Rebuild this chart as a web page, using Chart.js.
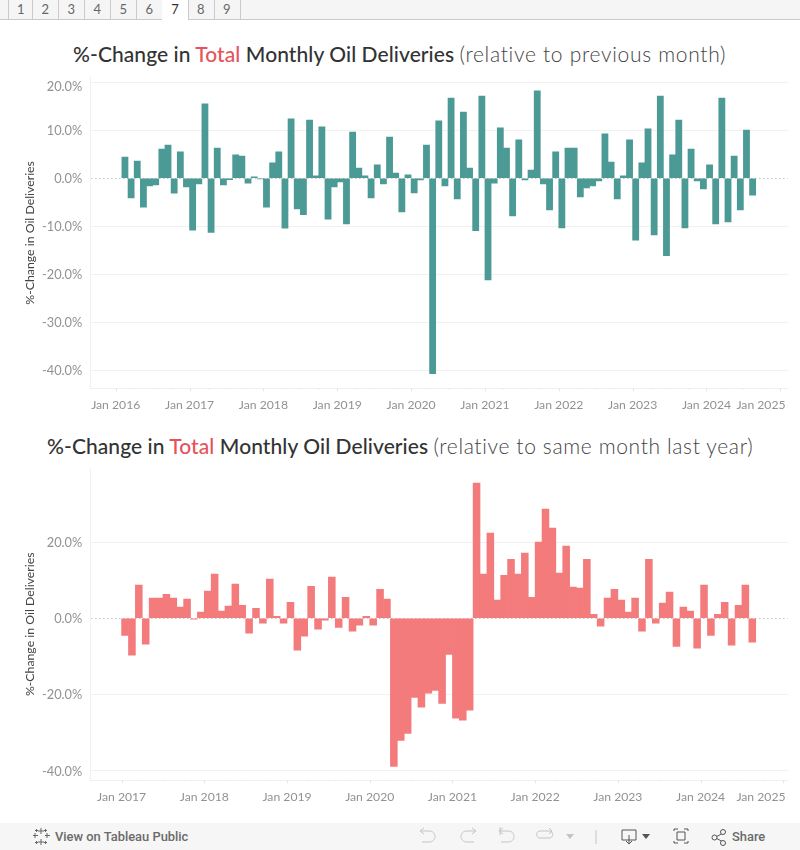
<!DOCTYPE html>
<html>
<head>
<meta charset="utf-8">
<title>Monthly Oil Deliveries</title>
<script src="https://cdn.jsdelivr.net/npm/chart.js@4"></script>
<style>
  html, body { margin: 0; padding: 0; background: #fff; }
  body { width: 800px; height: 850px; position: relative; overflow: hidden; font-family: Lato, sans-serif; }
  .tabs { position: absolute; left: 0; top: 0; width: 800px; height: 19px; background: #f5f5f5; border-bottom: 1px solid #cbcbcb; }
  .tab { position: absolute; top: 0; height: 19px; line-height: 19px; text-align: center; font-size: 13px; color: #666; border-right: 1px solid #cbcbcb; box-sizing: border-box; }
  .tab.first { border-left: 1px solid #cbcbcb; }
  .tab.active { background: #fff; height: 20px; color: #333; }
  .title { position: absolute; white-space: nowrap; font-size: 21px; line-height: 26px; color: #333; font-weight: 500; letter-spacing: 0.07px; }
  .title .total { color: #e5535b; }
  .title .rel { font-weight: 300; color: #444; letter-spacing: 0.7px; }
  canvas { position: absolute; left: 0; }
  .foot { position: absolute; left: 0; top: 823px; width: 800px; height: 27px; background: #f6f6f6; }
  .foot span { position: absolute; top: 6px; font-size: 12.9px; line-height: 16px; font-family: Roboto, sans-serif; font-weight: 500; color: #6a6a6a; white-space: nowrap; }
  .foot svg { position: absolute; left: 0; top: 0; }
</style>
</head>
<body>
<div class="tabs" id="tabs"></div>

<div class="title" style="left:73px;top:41px"><span>%-Change in <span class="total">Total</span> Monthly Oil Deliveries</span> <span class="rel">(relative to previous month)</span></div>
<canvas id="prevChart" style="top:70px" width="800" height="350"></canvas>

<div class="title" style="left:47px;top:433px"><span>%-Change in <span class="total">Total</span> Monthly Oil Deliveries</span> <span class="rel" style="letter-spacing:0.64px">(relative to same month last year)</span></div>
<canvas id="yoyChart" style="top:460px" width="800" height="350"></canvas>

<div class="foot">
  <span style="left:55px">View on Tableau Public</span>
  <span style="left:732px">Share</span>
  <svg width="800" height="27" fill="none" stroke-width="1">
    <g stroke="#666">
      <path d="M41 5v6M38 8h6M41 16v6M38 19h6M35 10v5M33 12.500h5M47 10v5M45 12.500h5M36.500 6v3M35 7.500h3M45.500 6v3M44 7.500h3M36.500 18v3M35 19.500h3M45.500 18v3M44 19.500h3"/>
    </g>
    <g stroke="#c4c4c4">
      <path d="M421 8h8c8 0 8 11 0 11h-7M424 5l-4 3l4 3"/>
      <path d="M475 8h-8c-8 0-8 11 0 11h7M472 5l4 3l-4 3"/>
      <path d="M500 8h8c8 0 8 11 0 11h-7M503 5l-4 3l4 3M500 4v8"/>
      <path d="M539 8h10c5 0 5 7 0 7h-10c-3-1-3-6 0-7zM549 5l3 3l-3 3"/>
      <path d="M596 7v14"/>
    </g>
    <path d="M566 11h8l-4 5z" fill="#c4c4c4"/>
    <g stroke="#555">
      <path d="M622 7h14v10h-14zM629 12v9M626 18l3 3l3-3"/>
      <path d="M674 8v-2h4M684 6h4v2M688 18v2h-4M678 20h-4v-2M677 9h8v8h-8z"/>
      <path d="M716 14l7-4M716 15l7 4"/>
      <circle cx="714.500" cy="14.500" r="2.500" fill="#f6f6f6"/>
      <circle cx="723" cy="9" r="2.500" fill="#f6f6f6"/>
      <circle cx="723" cy="20" r="2.500" fill="#f6f6f6"/>
    </g>
    <path d="M642 11h8l-4 5z" fill="#555"/>
  </svg>
</div>

<script>
const tabLabels = ['1', '2', '3', '4', '5', '6', '7', '8', '9'];
const activeTab = '7';

// %-change relative to previous month, Feb 2016 to Aug 2024
const prevStart = [2016, 2];
const prevValues = [
  4.4, -4.1, 3.6, -6.0, -1.6, -1.4, 6.1, 6.9, -3.1, 5.5, -1.8,
  -10.8, -1.2, 15.5, -11.3, 6.3, -1.4, -0.3, 4.9, 4.65, -1.0, 0.3, -0.15,
  -6.0, 3.2, 5.5, -10.4, 12.4, -6.4, -7.6, 12.15, 0.5, 10.7, -8.5, -1.8,
  -0.75, -9.5, 9.65, 2.15, 0.5, -4.1, 2.8, -1.2, 8.6, 1.1, -7.0, 0.7,
  -3.05, -0.35, 6.9, -40.7, 11.95, -1.6, 16.7, -4.3, 13.8, 2.15, -10.9, 17.15,
  -21.2, -1.0, 10.5, 6.3, -7.85, 8.0, -0.35, 1.7, 18.2, -1.2, -6.6, 5.5,
  -10.35, 6.3, 6.3, -3.9, -2.0, -1.6, -0.55, 9.25, 3.4, -4.3, 0.5, 8.0,
  -12.9, 3.2, 10.3, -11.8, 17.15, -16.1, 4.9, 12.15, -10.35, 6.1, -0.55, -2.2,
  2.8, -9.5, 16.7, -9.1, 4.65, -6.6, 10.05, -3.5
];

// %-change relative to same month last year, Jan 2017 to Aug 2024
const yoyStart = [2017, 1];
const yoyValues = [
  -4.5, -9.7, 8.7, -6.85, 5.3, 5.3, 6.3, 5.3, 2.9, 5.0, -0.25, 1.6,
  7.1, 11.6, 1.85, 3.2, 8.95, 3.4, -3.9, 2.6, -1.3, 10.3, 0.5, -1.3,
  4.2, -8.4, -4.7, 8.4, -2.9, -0.5, 10.8, -2.4, 5.5, -3.4, -1.85, 0.5,
  -1.85, 7.6, 5.0, -38.95, -32.1, -30.3, -20.8, -23.4, -19.7, -18.95, -22.4, -9.5,
  -26.3, -26.8, -24.2, 35.5, 11.6, 22.4, 4.75, 11.3, 15.5, 11.6, 17.1, 5.5,
  20.0, 28.7, 23.7, 11.85, 18.95, 8.15, 7.9, 15.5, 1.05, -2.1, 5.3, 7.6,
  4.75, 1.6, 5.3, -3.4, 15.5, -1.3, 3.95, 6.85, -7.4, 2.9, 1.85, -7.9,
  8.7, -4.5, 1.05, 4.2, -7.1, 3.4, 8.7, -6.3
];

const prevYears = [2016, 2017, 2018, 2019, 2020, 2021, 2022, 2023, 2024, 2025];
const yoyYears = [2017, 2018, 2019, 2020, 2021, 2022, 2023, 2024, 2025];
const prevTicks = [-40, -30, -20, -10, 0, 10, 20];
const yoyTicks = [-40, -20, 0, 20];

const tabEdges = [8.3, 32.3, 58.3, 84.3, 110.3, 136.3, 162.3, 187.7, 213.7, 239.7];
const tabs = document.getElementById('tabs');
tabLabels.forEach(function (label, i) {
    const el = document.createElement('div');
    el.className = 'tab' + (i === 0 ? ' first' : '') + (label === activeTab ? ' active' : '');
    el.style.left = tabEdges[i] + 'px';
    el.style.width = (tabEdges[i + 1] - tabEdges[i] + 1) + 'px';
    el.textContent = label;
    tabs.appendChild(el);
});

// short marks below the axis line: tall for January, tiny for each quarter
const axisMarks = {
    id: 'axisMarks',
    afterDraw(chart) {
        const x = chart.scales.x;
        const ctx = chart.ctx;
        const last = chart.options.plugins.axisMarks.lastMonth;
        ctx.save();
        ctx.strokeStyle = '#e6e6e6';
        ctx.lineWidth = 1;
        for (let m = 0; m <= last; m += 3) {
            const px = Math.round(x.getPixelForValue(m)) + 0.5;
            ctx.beginPath();
            ctx.moveTo(px, chart.chartArea.bottom);
            ctx.lineTo(px, chart.chartArea.bottom + (m % 12 === 0 ? 3 : 1));
            ctx.stroke();
        }
        ctx.restore();
    }
};

function drawChart(id, opts) {
    const monthOffset = (opts.start[0] - opts.years[0]) * 12 + opts.start[1] - 1;
    new Chart(document.getElementById(id), {
        type: 'bar',
        data: {
            datasets: [{
                data: opts.values.map(function (v, i) {
                    return { x: monthOffset + i + 0.5, y: v };
                }),
                backgroundColor: opts.color,
                borderWidth: 0,
                barPercentage: 1,
                categoryPercentage: 1
            }]
        },
        plugins: [axisMarks],
        options: {
            responsive: false,
            animation: false,
            layout: { padding: { left: 0, right: 12.3, top: opts.padTop, bottom: 0 } },
            plugins: {
                legend: { display: false },
                tooltip: { enabled: false },
                axisMarks: { lastMonth: (opts.years[opts.years.length - 1] - opts.years[0]) * 12 }
            },
            scales: {
                x: {
                    type: 'linear',
                    offset: false,
                    min: opts.xMin,
                    max: opts.xMax,
                    grid: { display: false, offset: false, drawTicks: false },
                    border: { color: '#efefef' },
                    afterFit(scale) {
                        scale.height = opts.axisHeight;
                        scale.paddingLeft = 0;
                        scale.paddingRight = 0;
                    },
                    afterBuildTicks(scale) {
                        scale.ticks = opts.years.map(function (y, i) {
                            const value = (y - opts.years[0]) * 12;
                            // last label sits left of its month so it stays in the plot
                            return { value: i === opts.years.length - 1 ? value - opts.lastShift : value };
                        });
                    },
                    ticks: {
                        autoSkip: false,
                        maxRotation: 0,
                        padding: 9,
                        color: '#929292',
                        font: { family: 'Lato', size: 12.2 },
                        callback(value, index) { return 'Jan ' + opts.years[index]; }
                    }
                },
                y: {
                    min: opts.yMin,
                    max: opts.yMax,
                    afterFit(scale) {
                        scale.width = 90.3;
                        scale.paddingTop = 0;
                        scale.paddingBottom = 0;
                    },
                    afterBuildTicks(scale) {
                        const ticks = [];
                        opts.yTicks.forEach(function (v) {
                            if (opts.topShift && v === opts.yTicks[opts.yTicks.length - 1]) {
                                // top label is nudged below its line, as in the original
                                ticks.push({ value: v, text: '' });
                                ticks.push({ value: v - opts.topShift, text: v.toFixed(1) + '%', labelOnly: true });
                            } else {
                                ticks.push({ value: v, text: v.toFixed(1) + '%' });
                            }
                        });
                        scale.ticks = ticks;
                    },
                    grid: {
                        drawTicks: false,
                        color(ctx) {
                            if (ctx.tick && ctx.tick.labelOnly) return 'rgba(0,0,0,0)';
                            return ctx.tick && ctx.tick.value === 0 ? '#c6c6c6' : '#f1f1f1';
                        }
                    },
                    border: {
                        color: '#f1f1f1',
                        dash(ctx) { return ctx.tick && ctx.tick.value === 0 ? [1.5, 2.5] : []; }
                    },
                    ticks: {
                        padding: 8,
                        labelOffset: 1,
                        color: '#929292',
                        font: { family: 'Lato', size: 12.8 },
                        callback(value, index, ticks) { return ticks[index].text; }
                    },
                    title: {
                        display: true,
                        text: '%-Change in Oil Deliveries',
                        color: '#444',
                        font: { family: 'Lato', size: 12.3 },
                        padding: { top: 23, bottom: 0 }
                    }
                }
            }
        }
    });
}

drawChart('prevChart', {
    values: prevValues, start: prevStart, years: prevYears, yTicks: prevTicks,
    color: '#4c9a95',
    padTop: 7.3, axisHeight: 31.5, topShift: 0.75,
    xMin: -4.13, xMax: 109.2, yMin: -43.8, yMax: 21.04, lastShift: 3.14
});
drawChart('yoyChart', {
    values: yoyValues, start: yoyStart, years: yoyYears, yTicks: yoyTicks,
    color: '#f37b7b',
    padTop: 8.3, axisHeight: 29.7,
    xMin: -4.54, xMax: 96.64, yMin: -42.6, yMax: 39.4, lastShift: 3.24
});
</script>
</body>
</html>
